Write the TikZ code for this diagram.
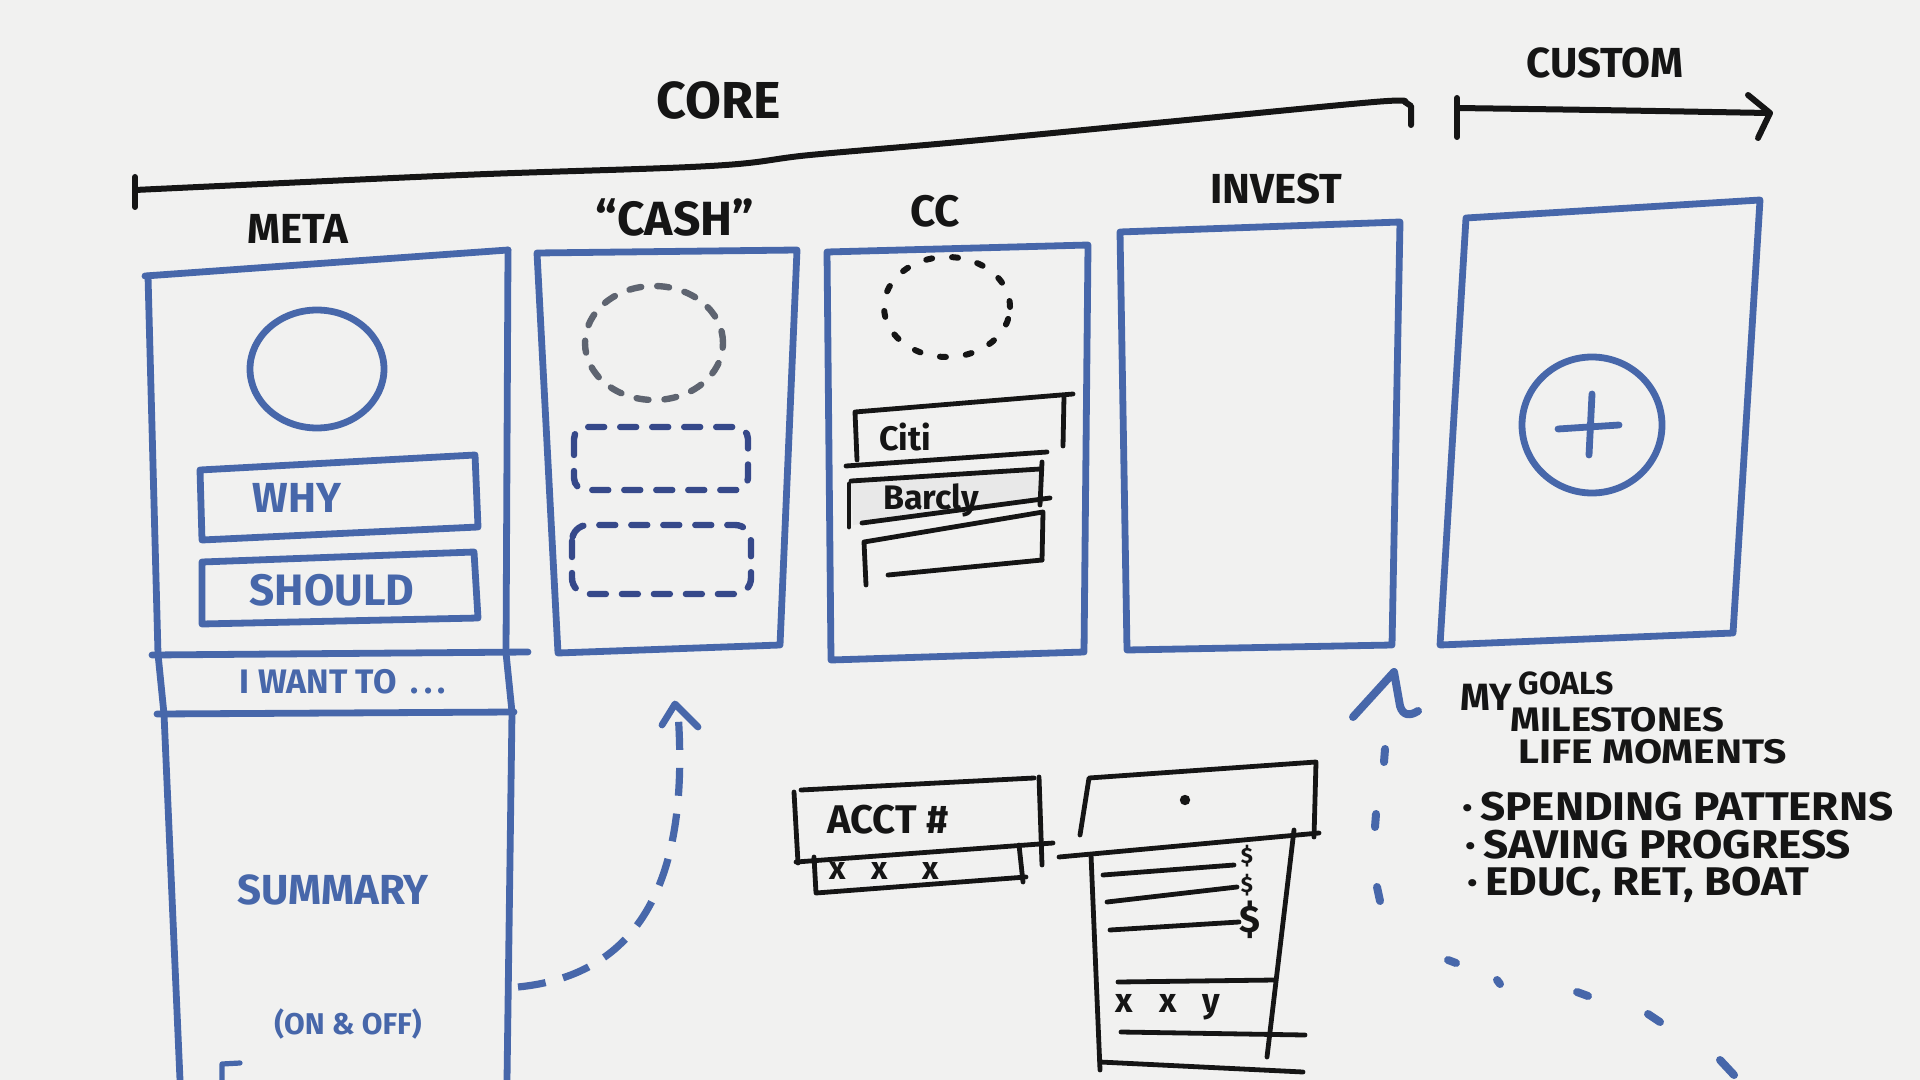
\documentclass[tikz,border=0pt]{standalone}
\usepackage{fontspec}
\setmainfont{Fira Sans}
\usetikzlibrary{arrows.meta}
\definecolor{board}{HTML}{F1F1F0}
\definecolor{mblue}{HTML}{4767AA}
\definecolor{mnavy}{HTML}{36498A}
\definecolor{mink}{HTML}{151515}
\definecolor{mgray}{HTML}{5E6470}
\begin{document}
\begin{tikzpicture}[x=0.5pt,y=-0.5pt,
  bluepen/.style={draw=mblue,line width=3.4pt,line cap=round,line join=round},
  inkpen/.style={draw=mink,line width=2.4pt,line cap=round,line join=round},
  bluetext/.style={text=mblue,font=\bfseries\fontsize{#1}{#1}\selectfont,inner sep=0pt},
  inktext/.style={text=mink,font=\bfseries\fontsize{#1}{#1}\selectfont,inner sep=0pt},
  dashpen/.style={draw=mblue,line width=4pt,line cap=round},
]
\fill[board] (0,0) rectangle (1920,1080);
\useasboundingbox (0,0) rectangle (1920,1080);

% ---------- CORE bracket ----------
\draw[inkpen,line width=3pt] (135,177) -- (135,207);
\draw[inkpen,line width=3pt] plot[smooth,tension=0.6] coordinates {(135,190) (462,175) (710,166) (810,155) (959,142) (1166,122) (1374,102) (1405,102)};
\draw[inkpen,line width=3pt] (1405,102) -- (1411,106) -- (1411,125);
\node[inktext=26] (core) at (719,100) {CORE};

% ---------- CUSTOM arrow ----------
\node[inktext=21] (custom) at (1605,63) {CUSTOM};
\draw[inkpen,line width=3pt] (1457,98) -- (1457,137);
\draw[inkpen,line width=3pt] (1457,108) .. controls (1600,110) .. (1768,113);
\draw[inkpen,line width=3pt] (1748,95) -- (1770,113) -- (1758,138);

% ---------- column labels ----------
\node[inktext=21] (metalbl) at (298,229) {META};
\node[inktext=24] (cashlbl) at (675,218) {“CASH”};
\node[inktext=22] (cclbl) at (935,211) {CC};
\node[inktext=21] (investlbl) at (1276,189) {INVEST};

% ---------- META phone ----------
\draw[bluepen] (148,276) -- (158,654) -- (164,714) -- (180,1080);
\draw[bluepen] (145,276) -- (508,250);
\draw[bluepen] (508,250) -- (506,653) -- (512,712) -- (507,1080);
\draw[bluepen] (152,655) -- (528,652);
\draw[bluepen] (157,714) -- (514,712);
\draw[bluepen] (317,369) ellipse [x radius=33.5pt, y radius=29.5pt];
\draw[bluepen] (200,470) -- (475,455) -- (478,527) -- (202,540) -- cycle;
\draw[bluepen] (202,562) -- (474,552) -- (478,618) -- (202,624) -- cycle;
\node[bluetext=21] (why) at (297,498) {WHY};
\node[bluetext=22] (should) at (332,590) {SHOULD};
\node[bluetext=17] (iwant) at (343,682) {I WANT TO \,.\,.\,.};
\node[bluetext=21] (summary) at (333,890) {SUMMARY};
\node[bluetext=15] (onoff) at (348,1024) {(ON \& OFF)};
\draw[bluepen,line width=2.6pt] (222,1080) -- (222,1064) -- (240,1063);

% ---------- CASH phone ----------
\draw[bluepen] (537,253) -- (797,250) -- (780,645) -- (558,653) -- cycle;
\draw[draw=mgray,line width=3.2pt,dash pattern=on 6pt off 8pt,line cap=round] (654,343) ellipse [x radius=34.5pt, y radius=28.5pt];
\draw[draw=mnavy,line width=3.2pt,dash pattern=on 8pt off 8pt,line cap=round,rounded corners=6pt] (574,427) rectangle (748,490);
\draw[draw=mnavy,line width=3.2pt,dash pattern=on 8pt off 8pt,line cap=round,rounded corners=8pt] (572,525) rectangle (751,594);

% ---------- CC phone ----------
\draw[bluepen] (827,252) -- (1088,245) -- (1084,652) -- (831,660) -- cycle;
\draw[draw=mink,line width=3pt,dash pattern=on 3pt off 10pt,line cap=round] (947,307) ellipse [x radius=31.5pt, y radius=25pt];
\fill[black!9] (851,482) -- (1040,469) -- (1042,502) -- (853,525) -- cycle;
\draw[inkpen] (857,460) -- (855,412) -- (1073,394);
\draw[inkpen] (1064,396) -- (1063,446);
\draw[inkpen] (846,466) -- (1047,452);
\draw[inkpen] (849,484) -- (849,527);
\draw[inkpen] (851,481) -- (1040,469);
\draw[inkpen] (1042,462) -- (1040,505);
\draw[inkpen] (862,523) -- (1050,498);
\draw[inkpen] (866,585) -- (864,542) -- (1043,512) -- (1042,560);
\draw[inkpen] (888,575) -- (1042,560);
\node[inktext=17] (citi) at (905,437) {Citi};
\node[inktext=17] (barcly) at (931,500) {Barcly};

% ---------- INVEST phone ----------
\draw[bluepen] (1120,232) -- (1400,222) -- (1392,645) -- (1127,650) -- cycle;

% ---------- CUSTOM phone ----------
\draw[bluepen] (1466,218) -- (1760,200) -- (1733,633) -- (1440,645) -- cycle;
\draw[bluepen] (1592,425) ellipse [x radius=35pt, y radius=34pt];
\draw[bluepen] (1592,394) -- (1589,455);
\draw[bluepen] (1558,429) -- (1619,425);

% ---------- dashed arrow summary -> cash ----------
\coordinate (sumR) at (518,987);
\coordinate (cashB) at (678,712);
\draw[draw=mblue,line width=3.6pt,dash pattern=on 14pt off 9pt] (sumR) .. controls (640,975) and (690,880) .. (cashB);
\draw[bluepen] (662,725) -- (675,704) -- (698,727);

% ---------- account widget ----------
\draw[inkpen] (794,792) -- (798,863);
\draw[inkpen] (801,790) -- (1034,778);
\draw[inkpen] (1039,777) -- (1042,865);
\draw[inkpen] (796,862) -- (1053,843);
\draw[inkpen] (814,857) -- (816,893) -- (1026,877);
\draw[inkpen] (1019,845) -- (1023,882);
\node[inktext=20] (acct) at (888,820) {ACCT \#};
\node[inktext=16] (xxx) at (884,871) {x\hspace{13pt}x\hspace{17pt}x};

% ---------- detail widget ----------
\draw[inkpen] (1080,835) -- (1089,778) -- (1316,762) -- (1314,837);
\draw[inkpen] (1059,857) -- (1319,833);
\fill[mink] (1185,800) circle (2.6pt);
\draw[inkpen] (1091,855) -- (1100,1070);
\draw[inkpen] (1294,830) -- (1267,1057);
\draw[inkpen] (1103,875) -- (1234,865);
\draw[inkpen] (1107,902) -- (1237,887);
\draw[inkpen] (1110,930) -- (1239,922);
\node[inktext=11] (d1) at (1247,856) {\$};
\node[inktext=11] (d2) at (1247,885) {\$};
\node[inktext=19] (d3) at (1250,920) {\$};
\draw[inkpen] (1118,982) -- (1275,980);
\node[inktext=17] (xxy) at (1168,1007) {x\hspace{13pt}x\hspace{13pt}y};
\draw[inkpen] (1121,1032) -- (1305,1035);
\draw[inkpen] (1100,1062) -- (1303,1072);

% ---------- goals arrow ----------
\draw[draw=mblue,line width=4pt,line cap=round,line join=round] (1353,717) -- (1394,672) -- (1400,706) .. controls (1403,716) and (1410,716) .. (1418,711);
\draw[dashpen] (1385,749) -- (1384,762);
\draw[dashpen] (1376,814) -- (1375,827);
\draw[dashpen] (1377,887) -- (1380,901);
\draw[dashpen] (1448,960) -- (1456,963);
\draw[dashpen] (1497,980) -- (1500,984);
\draw[dashpen] (1577,992) -- (1588,996);
\draw[dashpen] (1648,1014) -- (1660,1022);
\draw[dashpen] (1720,1060) -- (1734,1075);

% ---------- goals text ----------
\node[inktext=19,anchor=base west] (goals) at (1460,710) {MY\,{\fontsize{16}{16}\selectfont\raisebox{8pt}{GOALS}}};
\node[inktext=17,anchor=west] (miles) at (1510,720) {\scalebox{1.12}[1]{MILESTONES}};
\node[inktext=17,anchor=west] (life) at (1518,752) {\scalebox{1.2}[1]{LIFE MOMENTS}};
\node[inktext=20,anchor=west] (spend) at (1462,807) {\scalebox{1.1}[1]{·\,SPENDING PATTERNS}};
\node[inktext=20,anchor=west] (saving) at (1465,845) {\scalebox{1.1}[1]{·\,SAVING PROGRESS}};
\node[inktext=20,anchor=west] (educ) at (1467,885) {\scalebox{1.1}[1]{·\,EDUC, RET, BOAT}};
\end{tikzpicture}
\end{document}
